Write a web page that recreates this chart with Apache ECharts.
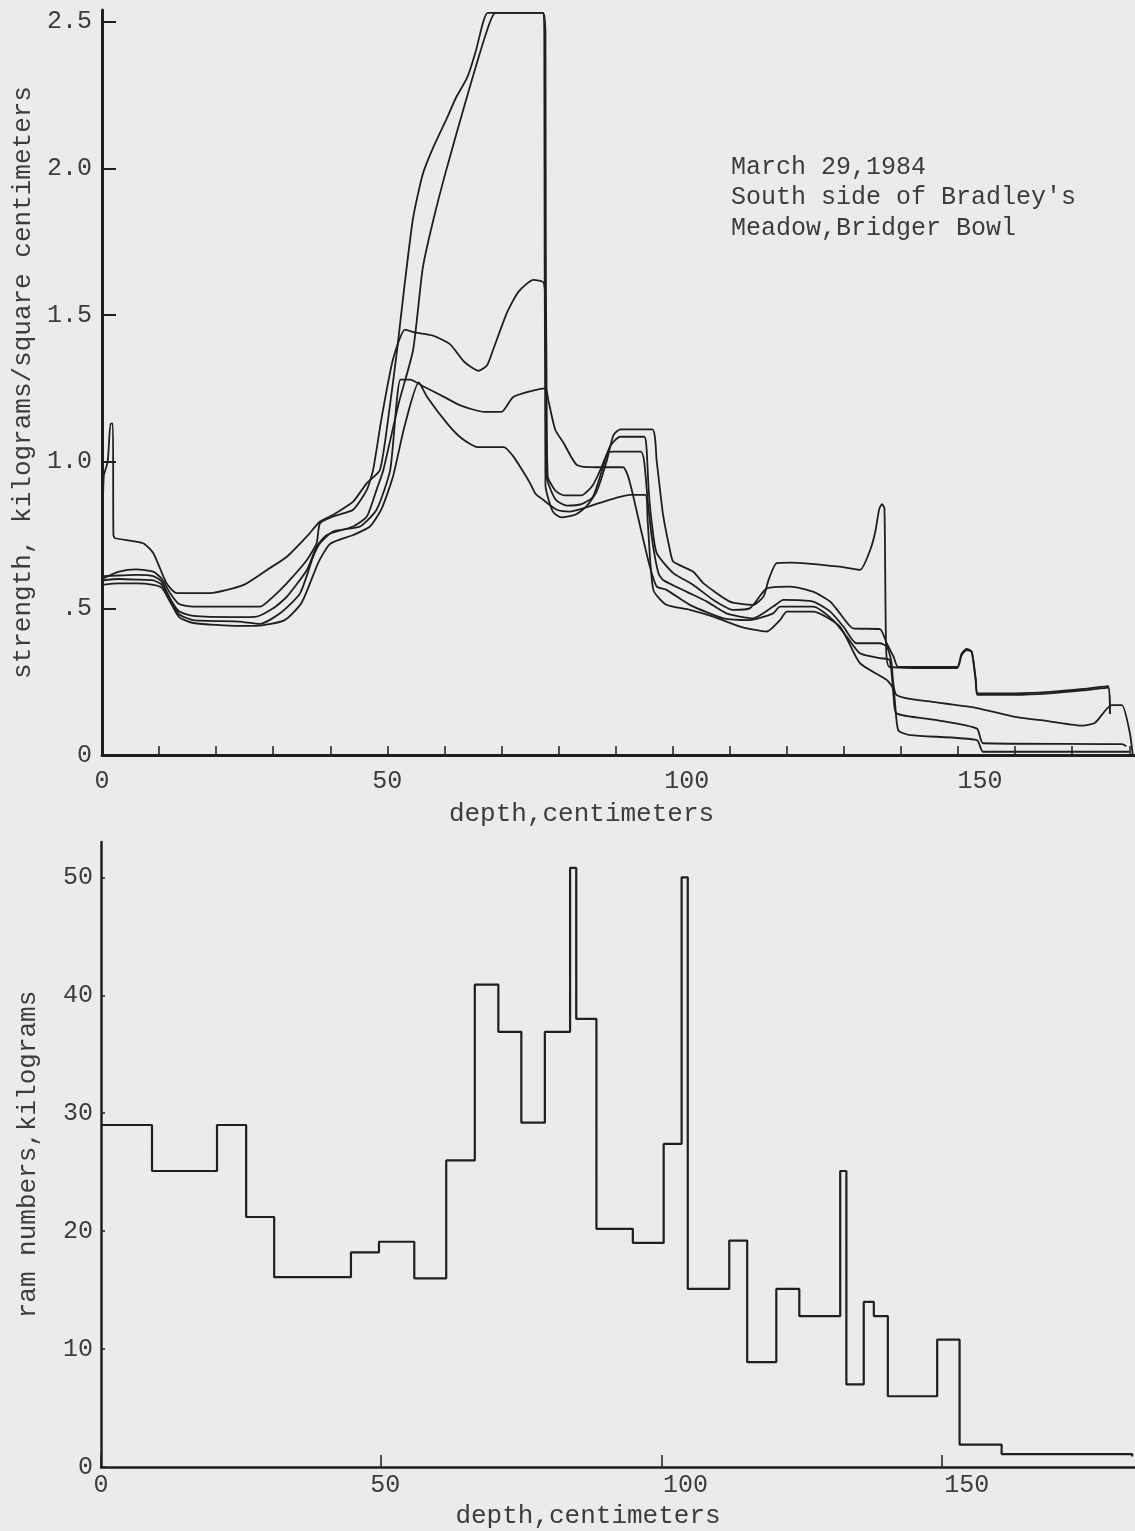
<!DOCTYPE html>
<html>
<head>
<meta charset="utf-8">
<script src="https://cdn.jsdelivr.net/npm/echarts@6/dist/echarts.min.js"></script>
<style>
  html, body { margin: 0; padding: 0; background: #ebebeb; }
  #chart { width: 1135px; height: 1531px; }
</style>
</head>
<body>
<div id="chart"></div>
<script>
// strength profiles, [depth cm, kg/cm2]
const curveS = [[0,0.63],[0.3,0.95],[1.0,1.0],[1.5,1.13],[1.9,1.13],[2.0,0.75],[2.3,0.739],[7.2,0.722],[9,0.688],[11.3,0.586],[13.1,0.552],[18.9,0.552],[24.8,0.58],[28.9,0.631],[32.4,0.676],[35.9,0.745],[38.2,0.796],[40.5,0.819],[44,0.864],[46.4,0.927],[48.7,0.972],[50.3,1.17],[51.7,1.38],[53,1.6],[54.5,1.83],[56.2,1.98],[58,2.07],[60.4,2.17],[62,2.24],[64,2.31],[65.5,2.4],[66.8,2.5],[67.6,2.53],[77.2,2.53],[77.5,2.45],[77.7,0.92],[79,0.83],[80.5,0.81],[83,0.82],[85,0.85],[86.7,0.9],[88.4,1.0],[89.6,1.09],[90.8,1.11],[96.4,1.11],[97.2,1.0],[98.3,0.82],[99.5,0.70],[100.1,0.659],[103.6,0.625],[105.4,0.585],[110,0.523],[114.1,0.512],[115.9,0.54],[116.8,0.597],[118.2,0.654],[120.6,0.656],[129.3,0.642],[132.8,0.631],[134.6,0.699],[135.5,0.762],[136.2,0.84],[136.7,0.855],[137.1,0.84],[137.4,0.36],[138,0.30],[149.8,0.296],[150.6,0.34],[151.5,0.358],[152.4,0.35],[153.1,0.25],[153.4,0.205],[160,0.205],[166,0.21],[171.9,0.22],[176.3,0.23],[176.6,0.14]];
const curveP = [[0,0.61],[3,0.612],[6,0.614],[9,0.61],[10.5,0.59],[12,0.53],[13.5,0.49],[16,0.474],[24,0.47],[27.1,0.472],[30,0.50],[32.4,0.54],[35.9,0.631],[37.6,0.71],[39.4,0.75],[44,0.779],[46.4,0.813],[48.1,0.904],[49.3,0.972],[52,1.2],[54.5,1.38],[56.2,1.66],[58,1.82],[60.4,2.0],[63.3,2.2],[66,2.38],[68,2.5],[69,2.53],[77.3,2.53],[77.7,2.45],[77.9,0.95],[79.5,0.87],[81.5,0.85],[84,0.855],[86,0.88],[87.8,0.983],[89,1.052],[90.8,1.085],[95,1.085],[95.4,1.05],[95.8,0.9],[96.4,0.78],[97.2,0.688],[100.1,0.62],[103.6,0.58],[107.1,0.529],[110.6,0.495],[113.5,0.5],[116.5,0.568],[120.6,0.574],[124.6,0.557],[127.6,0.523],[129.3,0.483],[131.6,0.432],[136.3,0.429],[137.5,0.381],[138.7,0.335],[139.5,0.30],[149.8,0.30],[150.6,0.345],[151.5,0.362],[152.4,0.352],[153.1,0.26],[153.5,0.21],[160,0.21],[166,0.215],[171.9,0.225],[176.3,0.235],[176.6,0.14]];
const curveQ = [[0,0.60],[3,0.625],[6,0.633],[9,0.625],[10.5,0.60],[12,0.55],[13.5,0.515],[16,0.506],[27.7,0.506],[30,0.54],[32.4,0.586],[35.9,0.665],[37.6,0.722],[38.2,0.79],[40.5,0.813],[44,0.836],[46.4,0.904],[47.5,0.972],[49,1.15],[51,1.35],[53.1,1.45],[55,1.44],[58,1.43],[61,1.40],[63.5,1.34],[66,1.31],[67.5,1.33],[68.5,1.38],[71,1.51],[73,1.58],[75.6,1.62],[77.4,1.61],[77.8,1.5],[78.1,0.95],[79.5,0.9],[81,0.885],[84,0.885],[86,0.92],[87.5,0.98],[88.6,1.03],[89.5,1.034],[94.4,1.034],[95,1.0],[95.7,0.85],[96.5,0.72],[97.5,0.62],[98.3,0.597],[102.4,0.557],[106,0.523],[109.4,0.483],[114.1,0.466],[117.6,0.506],[119.4,0.529],[124.6,0.523],[127.6,0.489],[129.9,0.438],[132.2,0.381],[136.3,0.381],[137.5,0.369],[138.3,0.32],[139.2,0.205],[146,0.18],[153.3,0.16],[160,0.13],[166,0.115],[171.9,0.10],[174,0.11],[176.9,0.17],[178.7,0.17],[180.1,0.075],[180.6,0]];
const curveR = [[0,0.595],[3,0.60],[6,0.598],[9,0.595],[10.5,0.58],[12,0.53],[13.5,0.48],[16,0.46],[24,0.455],[27.7,0.447],[31.2,0.483],[34.7,0.551],[37,0.676],[38.2,0.722],[40.5,0.762],[45.2,0.779],[48.1,0.836],[50.5,0.972],[52.3,1.28],[54,1.28],[56,1.26],[60,1.22],[63,1.19],[67,1.17],[70,1.17],[72,1.22],[75,1.24],[77.7,1.25],[78.2,1.21],[79.4,1.11],[80.9,1.063],[83.2,0.989],[86.7,0.981],[91.3,0.981],[92.2,0.949],[93.1,0.881],[94.3,0.779],[96,0.642],[97.2,0.574],[98.9,0.563],[103,0.512],[108.9,0.466],[113.5,0.46],[117.6,0.483],[118.8,0.506],[124.6,0.506],[128.1,0.46],[130.5,0.403],[132.8,0.347],[136.3,0.33],[138,0.324],[138.7,0.2],[139.2,0.142],[146,0.12],[153.3,0.09],[154.4,0.04],[178.7,0.037],[179.5,0.03]];
const curveT = [[0,0.58],[3,0.585],[6,0.585],[9,0.58],[10.5,0.57],[12,0.52],[13.5,0.47],[16,0.45],[24,0.44],[27,0.44],[32,0.46],[35,0.52],[38,0.66],[40,0.72],[44,0.75],[47,0.78],[49,0.84],[51,0.95],[53,1.12],[55.5,1.27],[57,1.22],[60.5,1.13],[63,1.08],[65.8,1.05],[70.4,1.05],[72,1.02],[74,0.96],[75,0.927],[76,0.89],[77.3,0.87],[79.7,0.836],[82,0.83],[86.7,0.856],[92.5,0.887],[95.2,0.887],[95.6,0.8],[96.6,0.563],[98.9,0.512],[103,0.495],[107.1,0.472],[111.8,0.438],[116.5,0.421],[118.8,0.46],[120,0.489],[124.6,0.489],[129.3,0.438],[132.8,0.313],[137.5,0.256],[138.7,0.222],[139.5,0.085],[141.6,0.068],[153.3,0.051],[154.4,0.011],[178.7,0.011],[180,0.011]];

// ram profile: start depth of each layer and its ram number
const ramDepth = [0, 9.1, 20.7, 25.9, 30.9, 44.6, 49.6, 55.9, 61.6, 66.7, 70.9, 75.0, 79.2, 83.7, 84.8, 88.4, 94.9, 100.4, 103.6, 104.7, 112.1, 115.3, 120.5, 124.6, 131.9, 133.0, 136.1, 137.9, 140.4, 149.2, 153.2, 160.7, 184];
const ramValue = [29.0, 25.1, 29.0, 21.2, 16.1, 18.2, 19.1, 16.0, 26.0, 40.9, 36.9, 29.2, 36.9, 50.8, 38.0, 20.2, 19.0, 27.4, 50.0, 15.1, 19.2, 8.9, 15.1, 12.8, 25.1, 7.0, 14.0, 12.8, 6.0, 10.8, 1.9, 1.1, 0.9];

const strengthTicks = [0, 0.5, 1.0, 1.5, 2.0, 2.5];

const ink = '#1f1f1f';
const textInk = '#3c3c3c';
const mono = 'Liberation Mono';
const lbl = { fontFamily: mono, fontSize: 25, color: textInk };

// typewritten labels sit a little right of their ticks
const shifted = (pads) => {
  const rich = {};
  Object.keys(pads).forEach((k) => {
    rich['s' + k] = Object.assign({ padding: [0, 0, 0, pads[k]] }, lbl);
  });
  return rich;
};

const lineSeries = (data) => ({
  type: 'line',
  xAxisIndex: 0,
  yAxisIndex: 0,
  data: data,
  showSymbol: false,
  symbol: 'none',
  smooth: 0.2,
  lineStyle: { color: ink, width: 1.8 },
  silent: true,
});

const myChart = echarts.init(document.getElementById('chart'));

const option = {
  animation: false,
  backgroundColor: '#ebebeb',
  textStyle: { fontFamily: mono },
  grid: [
    { left: 102, right: 0, top: 10, bottom: 776 },
    { left: 101, right: 0, top: 842, bottom: 64 },
  ],
  xAxis: [
    {
      gridIndex: 0,
      type: 'value',
      min: 0,
      max: 181,
      interval: 10,
      name: 'depth,centimeters',
      nameLocation: 'middle',
      nameGap: 46,
      nameTextStyle: { fontFamily: mono, fontSize: 26, color: textInk, padding: [0, 74, 0, 0] },
      axisLine: { lineStyle: { color: ink, width: 3 } },
      axisTick: { inside: true, length: 9, lineStyle: { color: ink, width: 1.5 } },
      axisLabel: Object.assign({
        margin: 14,
        showMaxLabel: false,
        formatter: (v) => (v % 50 === 0 ? '{s' + v + '|' + v + '}' : ''),
        rich: shifted({ 0: 0, 50: 0, 100: 28, 150: 44 }),
      }, lbl),
      splitLine: { show: false },
    },
    {
      gridIndex: 1,
      type: 'value',
      min: 0,
      max: 184.5,
      interval: 50,
      name: 'depth,centimeters',
      nameLocation: 'middle',
      nameGap: 36,
      nameTextStyle: { fontFamily: mono, fontSize: 26, color: textInk, padding: [0, 60, 0, 0] },
      axisLine: { lineStyle: { color: ink, width: 2.5 } },
      axisTick: { inside: true, length: 12, lineStyle: { color: ink, width: 1.5 } },
      axisLabel: Object.assign({
        margin: 6,
        showMaxLabel: false,
        formatter: (v) => '{s' + v + '|' + v + '}',
        rich: shifted({ 0: 0, 50: 8, 100: 48, 150: 50 }),
      }, lbl),
      splitLine: { show: false },
    },
  ],
  yAxis: [
    {
      gridIndex: 0,
      type: 'value',
      min: 0,
      max: 2.54,
      interval: 0.5,
      name: 'strength, kilograms/square centimeters',
      nameLocation: 'middle',
      nameRotate: 90,
      nameGap: 56,
      nameTextStyle: { fontFamily: mono, fontSize: 26, color: textInk },
      axisLine: { lineStyle: { color: ink, width: 3 } },
      axisTick: { inside: true, length: 14, lineStyle: { color: ink, width: 2 } },
      axisLabel: Object.assign({
        margin: 10,
        showMaxLabel: false,
        formatter: (v) => {
          if (strengthTicks.indexOf(v) < 0) return '';
          if (v === 0) return '0';
          if (v === 0.5) return '.5';
          return v.toFixed(1);
        },
      }, lbl),
      splitLine: { show: false },
    },
    {
      gridIndex: 1,
      type: 'value',
      min: 0,
      max: 53,
      interval: 10,
      name: 'ram numbers,kilograms',
      nameLocation: 'middle',
      nameRotate: 90,
      nameGap: 60,
      nameTextStyle: { fontFamily: mono, fontSize: 26, color: textInk },
      axisLine: { lineStyle: { color: ink, width: 2.5 } },
      axisTick: { inside: true, length: 4, lineStyle: { color: ink, width: 1.5 } },
      axisLabel: Object.assign({ margin: 8, showMaxLabel: false }, lbl),
      splitLine: { show: false },
    },
  ],
  graphic: [
    {
      type: 'text',
      left: 731,
      top: 152,
      style: {
        text: "March 29,1984\nSouth side of Bradley's\nMeadow,Bridger Bowl",
        font: '25px "Liberation Mono"',
        fill: textInk,
        lineHeight: 30.5,
      },
    },
  ],
  series: [
    lineSeries(curveS),
    lineSeries(curveP),
    lineSeries(curveQ),
    lineSeries(curveR),
    lineSeries(curveT),
    {
      type: 'line',
      xAxisIndex: 1,
      yAxisIndex: 1,
      step: 'end',
      data: ramDepth.map((d, i) => [d, ramValue[i]]),
      showSymbol: false,
      symbol: 'none',
      lineStyle: { color: ink, width: 2.2 },
      silent: true,
    },
  ],
};

myChart.setOption(option);
</script>
</body>
</html>
